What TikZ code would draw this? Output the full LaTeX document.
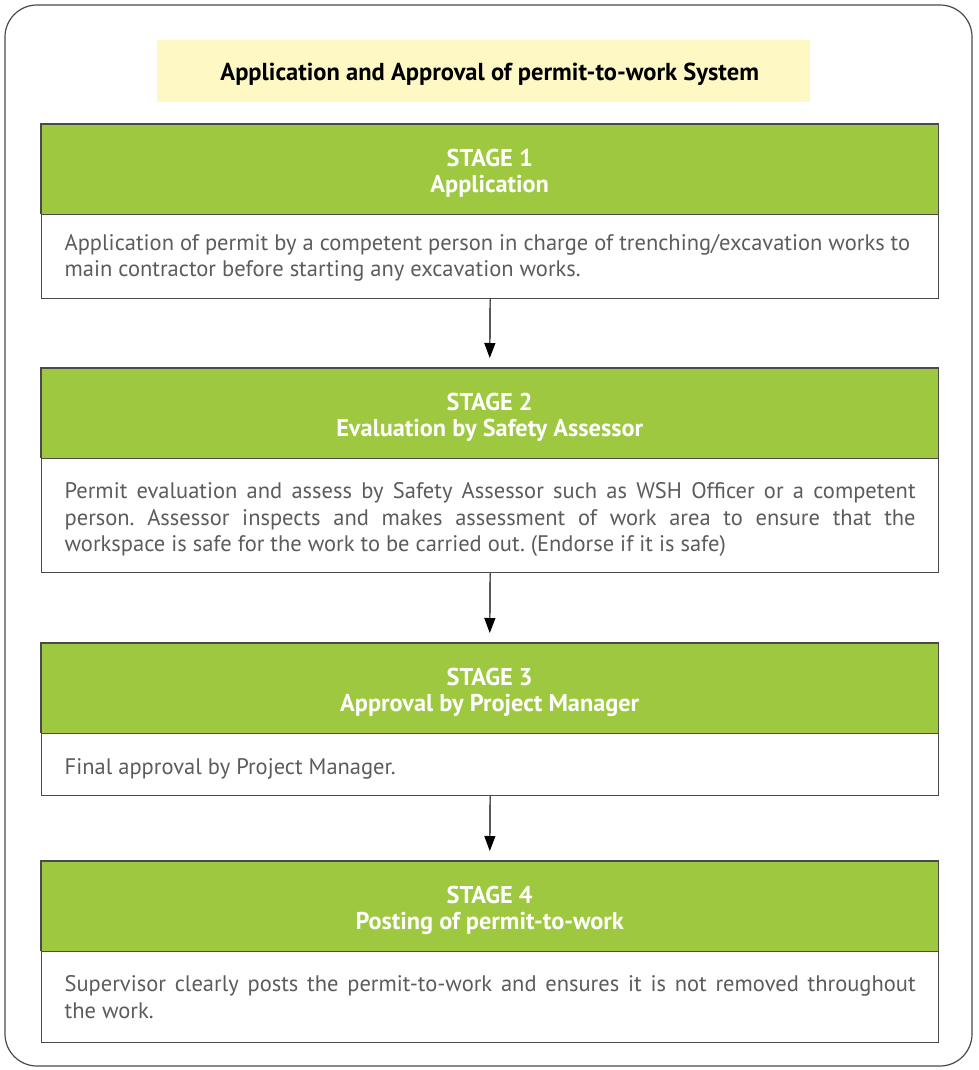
\documentclass[tikz,border=0pt]{standalone}
\usepackage{fontspec}
\setmainfont{PT Sans}
\usetikzlibrary{arrows.meta}
\definecolor{stagegreen}{HTML}{9DC83F}
\definecolor{titleyellow}{HTML}{FDF8C4}
\definecolor{bodygrey}{HTML}{5C5C5C}
\definecolor{framegrey}{HTML}{4A4A4A}
\tikzset{
  header/.style={anchor=north west, fill=stagegreen, minimum width=897pt, minimum height=90pt, inner sep=0pt},
  headtext/.style={text=white, font=\fontsize{24.3}{26.5}\selectfont\bfseries, align=center, inner sep=0pt},
  bodybox/.style={anchor=north west, draw=framegrey, line width=1.3pt, fill=white,
    minimum width=897pt, inner sep=0pt},
  bodytext/.style={text width=851pt, inner sep=0pt, text=bodygrey,
    font=\fontsize{22.5}{26.5}\selectfont\frenchspacing, align=justify},
  headframe/.style={draw=framegrey, line width=1.3pt},
  arr/.style={-{Triangle[width=11pt,length=15pt]}, line width=1.2pt, black, shorten >=10pt}
}
\begin{document}
\begin{tikzpicture}[x=1pt,y=-1pt]
\useasboundingbox (0,0) rectangle (978,1070);
\draw[framegrey, line width=1.2pt, rounded corners=32pt] (5,5) rectangle (972,1066);

\node[fill=titleyellow, anchor=north west, minimum width=653pt, minimum height=62pt, inner sep=0pt] (title) at (157,40) {};
\node[font=\fontsize{24.5}{26}\selectfont\bfseries, inner sep=0pt] (titletext) at ([xshift=6pt,yshift=-3pt]title.center) {Application and Approval of permit-to-work System};

% Stage 1
\node[header] (h1) at (41,124) {};
\node[headtext] (t1) at ([yshift=-4pt]h1.center) {STAGE 1\\Application};
\node[bodybox, minimum height=84pt] (b1) at (41,214) {};
\node[bodytext] (x1) at ([yshift=-1pt]b1.center) {Application of permit by a competent person in charge of trenching/excavation works to\newline main contractor before starting any excavation works.};
\draw[headframe] (h1.south west) |- (h1.north east) -- (h1.south east);

% Stage 2
\node[header] (h2) at (41,368) {};
\node[headtext] (t2) at ([yshift=-4pt]h2.center) {STAGE 2\\Evaluation by Safety Assessor};
\node[bodybox, minimum height=114pt] (b2) at (41,458) {};
\node[bodytext] (x2) at ([yshift=-4pt]b2.center) {Permit evaluation and assess by Safety Assessor such as WSH Officer or a competent\linebreak person. Assessor inspects and makes assessment of work area to ensure that the\linebreak workspace is safe for the work to be carried out. (Endorse if it is safe)};
\draw[headframe] (h2.south west) |- (h2.north east) -- (h2.south east);

% Stage 3
\node[header] (h3) at (41,643) {};
\node[headtext] (t3) at ([yshift=-4pt]h3.center) {STAGE 3\\Approval by Project Manager};
\node[bodybox, minimum height=62pt] (b3) at (41,733) {};
\node[bodytext] (x3) at ([yshift=-4.5pt]b3.center) {Final approval by Project Manager.};
\draw[headframe] (h3.south west) |- (h3.north east) -- (h3.south east);

% Stage 4
\node[header] (h4) at (41,861) {};
\node[headtext] (t4) at ([yshift=-4pt]h4.center) {STAGE 4\\Posting of permit-to-work};
\node[bodybox, minimum height=91pt] (b4) at (41,951) {};
\node[bodytext] (x4) at (b4.center) {Supervisor clearly posts the permit-to-work and ensures it is not removed throughout\linebreak the work.};
\draw[headframe] (h4.south west) |- (h4.north east) -- (h4.south east);

\draw[arr] (b1.south) -- (h2.north);
\draw[arr] (b2.south) -- (h3.north);
\draw[arr] (b3.south) -- (h4.north);
\end{tikzpicture}
\end{document}
